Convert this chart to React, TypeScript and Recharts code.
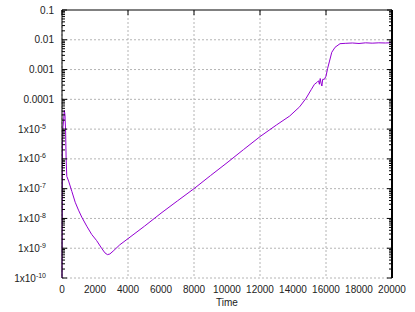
import { LineChart, Line, XAxis, YAxis, CartesianGrid } from 'recharts';

// time samples and the value read at each one (log scale)
const times = [
  0, 30, 60, 100, 140, 180, 220, 250, 290, 400, 600, 800, 1000, 1200, 1500,
  1800, 2100, 2400, 2600, 2750, 2900, 3100, 3500, 4000, 5000, 6000, 7000, 8000,
  9000, 10000, 11000, 12000, 13000, 13800, 14400, 14800, 15100, 15300, 15450,
  15550, 15600, 15650, 15700, 15750, 15800, 15900, 16000, 16100, 16200, 16350,
  16550, 16850, 17200, 17600, 18000, 18400, 18800, 19200, 19600, 20000,
];
const values = [
  1e-10, 3e-6, 1.2e-5, 2e-5, 4.3e-5, 3e-5, 8e-6, 1e-6, 2.6e-7, 1.8e-7, 8e-8,
  3.5e-8, 1.9e-8, 1.1e-8, 5.5e-9, 2.9e-9, 1.8e-9, 1e-9, 7e-10, 6.1e-10,
  6.4e-10, 8e-10, 1.3e-9, 2.1e-9, 5.5e-9, 1.5e-8, 3.9e-8, 1e-7, 2.75e-7,
  7.4e-7, 2.05e-6, 5.6e-6, 1.38e-5, 2.75e-5, 5.6e-5, 1.1e-4, 2.1e-4, 3.2e-4,
  3.7e-4, 4.2e-4, 3.2e-4, 5e-4, 3.5e-4, 2.8e-4, 4.7e-4, 4.7e-4, 6e-4, 1.1e-3,
  1.8e-3, 3.8e-3, 5.6e-3, 7.4e-3, 7.6e-3, 7.8e-3, 7.5e-3, 7.9e-3, 7.7e-3,
  7.9e-3, 7.8e-3, 8e-3,
];

const xTicks = [0, 2000, 4000, 6000, 8000, 10000, 12000, 14000, 16000, 18000, 20000];
const yMajor = [1e-10, 1e-9, 1e-8, 1e-7, 1e-6, 1e-5, 1e-4, 1e-3, 1e-2, 1e-1];
const yLabels: Record<number, [string, string]> = {
  [-1]: ['0.1', ''],
  [-2]: ['0.01', ''],
  [-3]: ['0.001', ''],
  [-4]: ['0.0001', ''],
  [-5]: ['1x10', '-5'],
  [-6]: ['1x10', '-6'],
  [-7]: ['1x10', '-7'],
  [-8]: ['1x10', '-8'],
  [-9]: ['1x10', '-9'],
  [-10]: ['1x10', '-10'],
};
const minorSteps = [2, 3, 4, 5, 6, 7, 8, 9];

const data = times.map((t, i) => ({ t, v: values[i] }));
const yAll = yMajor.concat(
  yMajor.slice(0, -1).flatMap((m) => minorSteps.map((k) => m * k))
);

const font = '"Liberation Sans", Arial, sans-serif';

const isMajor = (v: number) => Math.abs(Math.log10(v) - Math.round(Math.log10(v))) < 1e-6;

const LeftTick = (props: any) => {
  const { x, y, payload } = props;
  const v = payload.value;
  const major = isMajor(v);
  const lab = major ? yLabels[Math.round(Math.log10(v))] : null;
  return (
    <g>
      <line x1={x} x2={x + (major ? 5 : 3)} y1={y} y2={y} stroke="#000" />
      {lab && !lab[1] && (
        <text x={x - 8} y={y + 3.5} textAnchor="end" fontSize={10} fill="#222" fontFamily={font}>
          {lab[0]}
        </text>
      )}
      {lab && lab[1] && (
        <text x={x - 16} y={y + 3.5} textAnchor="end" fontSize={10} fill="#222" fontFamily={font}>
          {lab[0]}
          <tspan dy={-4} fontSize={7}>{lab[1]}</tspan>
        </text>
      )}
    </g>
  );
};

const RightTick = (props: any) => {
  const { x, y, payload } = props;
  const major = isMajor(payload.value);
  return <line x1={x} x2={x - (major ? 5 : 3)} y1={y} y2={y} stroke="#000" />;
};

const TopTick = (props: any) => {
  const { x, y } = props;
  return <line x1={x} x2={x} y1={y} y2={y + 5} stroke="#000" />;
};

export default function App() {
  return (
    <div style={{ position: 'absolute', left: 0, top: 0, background: '#fff' }}>
      <LineChart width={415} height={312} data={data} margin={{ top: 9, right: 22, bottom: 0, left: 0 }}>
        <CartesianGrid stroke="#b4b4b4" strokeDasharray="2 2" horizontalValues={yMajor} verticalValues={xTicks} />
        <XAxis
          dataKey="t"
          type="number"
          domain={[0, 20000]}
          ticks={xTicks}
          height={34}
          tickLine={false}
          axisLine={false}
          tick={{ fontSize: 10, fill: '#222', fontFamily: font }}
          label={{ value: 'Time', position: 'insideBottom', offset: 6, fontSize: 10, fill: '#222', fontFamily: font }}
        />
        <XAxis
          xAxisId="top"
          orientation="top"
          dataKey="t"
          type="number"
          domain={[0, 20000]}
          ticks={xTicks}
          height={1}
          tickLine={false}
          tickSize={0}
          tickMargin={0}
          axisLine={{ stroke: '#808080', strokeWidth: 2 }}
          tick={<TopTick />}
        />
        <YAxis
          scale="log"
          domain={[1e-10, 0.1]}
          allowDataOverflow
          ticks={yAll}
          width={62}
          tickLine={false}
          tickSize={0}
          tickMargin={0}
          interval={0}
          axisLine={{ stroke: '#000' }}
          tick={<LeftTick />}
        />
        <YAxis
          yAxisId="right"
          orientation="right"
          scale="log"
          domain={[1e-10, 0.1]}
          allowDataOverflow
          ticks={yAll}
          width={1}
          tickLine={false}
          tickSize={0}
          tickMargin={0}
          interval={0}
          axisLine={{ stroke: '#000', strokeWidth: 2 }}
          tick={<RightTick />}
        />
        <Line
          xAxisId="top"
          yAxisId="right"
          dataKey="v"
          stroke="none"
          dot={false}
          legendType="none"
          isAnimationActive={false}
        />
        <Line dataKey="v" stroke="#9400d3" strokeWidth={1} dot={false} isAnimationActive={false} />
      </LineChart>
    </div>
  );
}
